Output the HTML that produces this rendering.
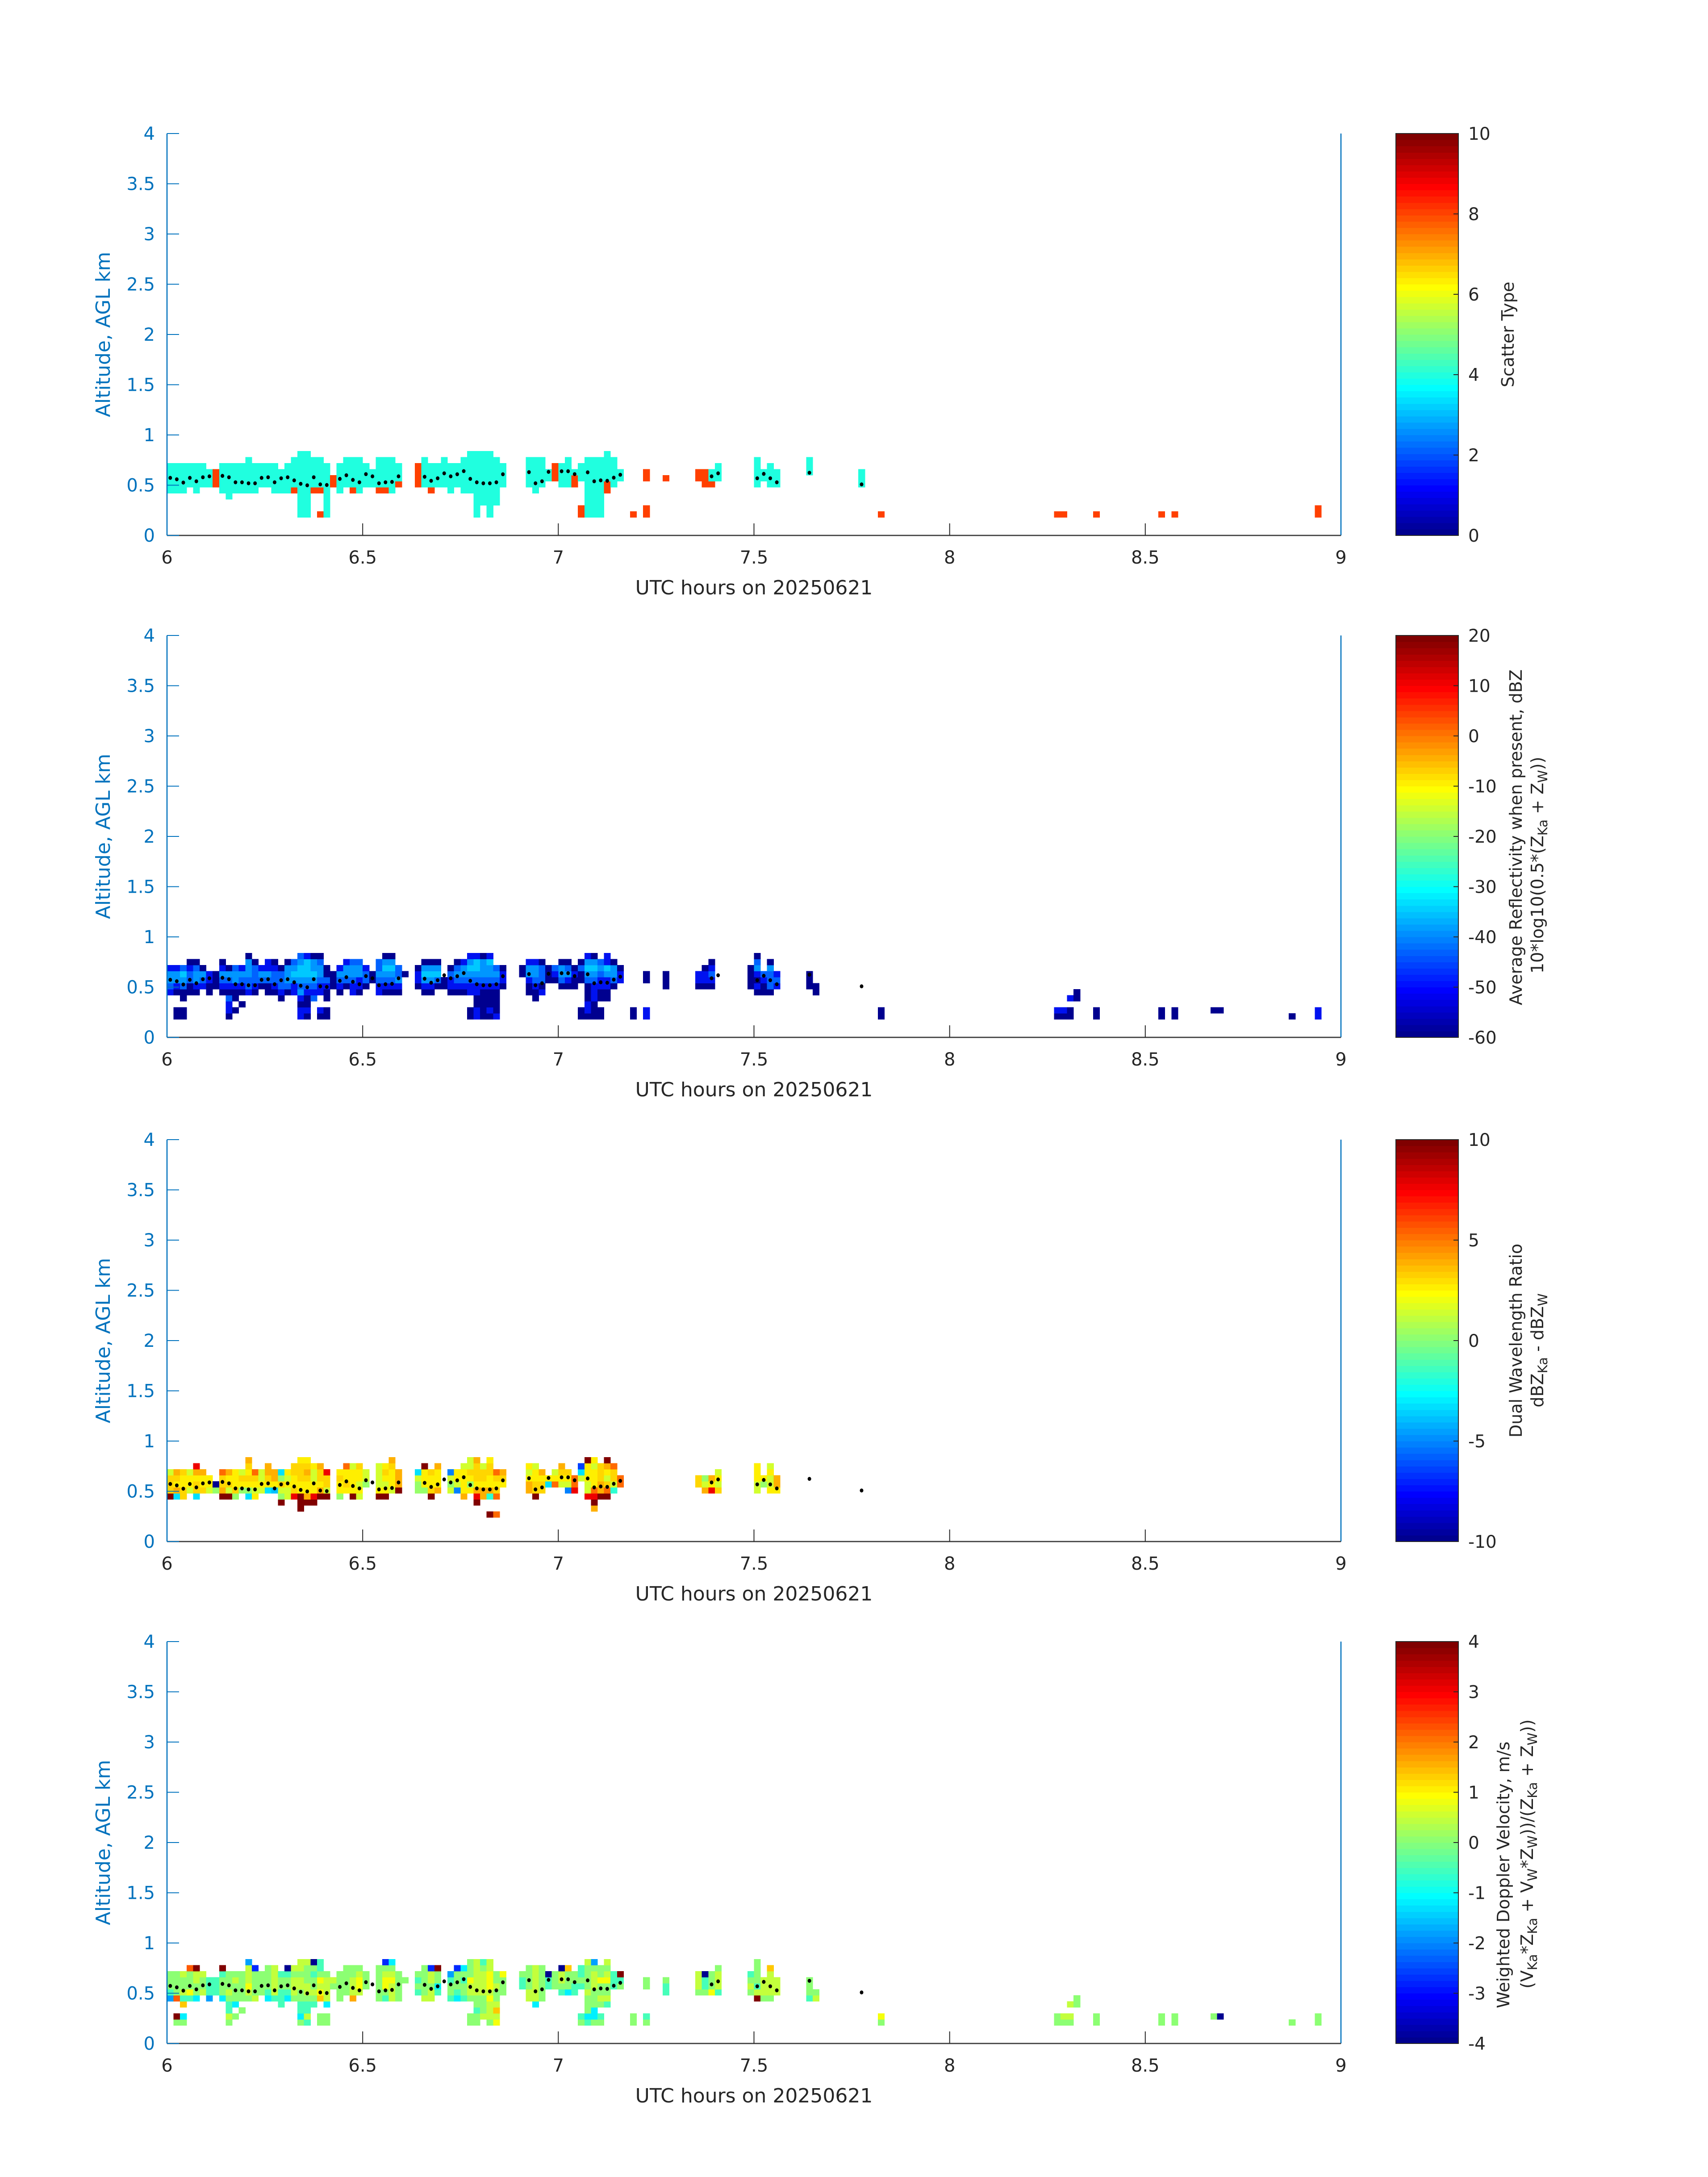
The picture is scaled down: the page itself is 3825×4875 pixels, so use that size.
<!DOCTYPE html>
<html><head><meta charset="utf-8"><style>
html,body{margin:0;padding:0;background:#fff;}
svg{display:block;}
text{font-family:"DejaVu Sans","Liberation Sans",sans-serif;}
</style></head><body>
<svg id="s" xmlns="http://www.w3.org/2000/svg" width="3825" height="4875" viewBox="0 0 3825 4875">
<rect width="3825" height="4875" fill="#fff"/>
<g id="cells" shape-rendering="crispEdges"></g>
<g id="dots"></g>
<g id="cbars" shape-rendering="crispEdges"></g>

<!-- ===== Axes spines & ticks ===== -->
<g fill="none">
<!-- panel 1 -->
<path d="M374 299V1199M3003 299V1199" stroke="#0072BD" stroke-width="2.6"/>
<path d="M374 1199H3003" stroke="#3a3a3a" stroke-width="2.8"/>
<path d="M374 1199h27M374 1086.5h27M374 974h27M374 861.5h27M374 749h27M374 636.5h27M374 524h27M374 411.5h27M374 299h27" stroke="#0072BD" stroke-width="2"/>
<path d="M812.2 1199v-27M1250.3 1199v-27M1688.5 1199v-27M2126.7 1199v-27M2564.8 1199v-27" stroke="#262626" stroke-width="2"/>
<!-- panel 2 -->
<path d="M374 1423V2323M3003 1423V2323" stroke="#0072BD" stroke-width="2.6"/>
<path d="M374 2323H3003" stroke="#3a3a3a" stroke-width="2.8"/>
<path d="M374 2323h27M374 2210.5h27M374 2098h27M374 1985.5h27M374 1873h27M374 1760.5h27M374 1648h27M374 1535.5h27M374 1423h27" stroke="#0072BD" stroke-width="2"/>
<path d="M812.2 2323v-27M1250.3 2323v-27M1688.5 2323v-27M2126.7 2323v-27M2564.8 2323v-27" stroke="#262626" stroke-width="2"/>
<!-- panel 3 -->
<path d="M374 2552V3452M3003 2552V3452" stroke="#0072BD" stroke-width="2.6"/>
<path d="M374 3452H3003" stroke="#3a3a3a" stroke-width="2.8"/>
<path d="M374 3452h27M374 3339.5h27M374 3227h27M374 3114.5h27M374 3002h27M374 2889.5h27M374 2777h27M374 2664.5h27M374 2552h27" stroke="#0072BD" stroke-width="2"/>
<path d="M812.2 3452v-27M1250.3 3452v-27M1688.5 3452v-27M2126.7 3452v-27M2564.8 3452v-27" stroke="#262626" stroke-width="2"/>
<!-- panel 4 -->
<path d="M374 3676V4576M3003 3676V4576" stroke="#0072BD" stroke-width="2.6"/>
<path d="M374 4576H3003" stroke="#3a3a3a" stroke-width="2.8"/>
<path d="M374 4576h27M374 4463.5h27M374 4351h27M374 4238.5h27M374 4126h27M374 4013.5h27M374 3901h27M374 3788.5h27M374 3676h27" stroke="#0072BD" stroke-width="2"/>
<path d="M812.2 4576v-27M1250.3 4576v-27M1688.5 4576v-27M2126.7 4576v-27M2564.8 4576v-27" stroke="#262626" stroke-width="2"/>
</g>

<!-- ===== Panel 1 text ===== -->
<g font-size="40" fill="#0072BD" text-anchor="end">
<text x="347" y="1213">0</text><text x="347" y="1100.5">0.5</text><text x="347" y="988">1</text><text x="347" y="875.5">1.5</text><text x="347" y="763">2</text><text x="347" y="650.5">2.5</text><text x="347" y="538">3</text><text x="347" y="425.5">3.5</text><text x="347" y="313">4</text>
</g>
<g font-size="40" fill="#262626" text-anchor="middle">
<text x="374" y="1262">6</text><text x="812.2" y="1262">6.5</text><text x="1250.3" y="1262">7</text><text x="1688.5" y="1262">7.5</text><text x="2126.7" y="1262">8</text><text x="2564.8" y="1262">8.5</text><text x="3003" y="1262">9</text>
</g>
<text x="1688.5" y="1331" font-size="44" fill="#262626" text-anchor="middle">UTC hours on 20250621</text>
<text transform="translate(246,749) rotate(-90)" font-size="44" fill="#0072BD" text-anchor="middle">Altitude, AGL km</text>
<g font-size="39" fill="#262626">
<text x="3288" y="1213">0</text><text x="3288" y="1033">2</text><text x="3288" y="853">4</text><text x="3288" y="673">6</text><text x="3288" y="493">8</text><text x="3288" y="313">10</text>
</g>
<text transform="translate(3390,749) rotate(-90)" font-size="38" fill="#262626" text-anchor="middle">Scatter Type</text>

<!-- ===== Panel 2 text ===== -->
<g font-size="40" fill="#0072BD" text-anchor="end">
<text x="347" y="2337">0</text><text x="347" y="2224.5">0.5</text><text x="347" y="2112">1</text><text x="347" y="1999.5">1.5</text><text x="347" y="1887">2</text><text x="347" y="1774.5">2.5</text><text x="347" y="1662">3</text><text x="347" y="1549.5">3.5</text><text x="347" y="1437">4</text>
</g>
<g font-size="40" fill="#262626" text-anchor="middle">
<text x="374" y="2386">6</text><text x="812.2" y="2386">6.5</text><text x="1250.3" y="2386">7</text><text x="1688.5" y="2386">7.5</text><text x="2126.7" y="2386">8</text><text x="2564.8" y="2386">8.5</text><text x="3003" y="2386">9</text>
</g>
<text x="1688.5" y="2455" font-size="44" fill="#262626" text-anchor="middle">UTC hours on 20250621</text>
<text transform="translate(246,1873) rotate(-90)" font-size="44" fill="#0072BD" text-anchor="middle">Altitude, AGL km</text>
<g font-size="39" fill="#262626">
<text x="3288" y="2337">-60</text><text x="3288" y="2224.5">-50</text><text x="3288" y="2112">-40</text><text x="3288" y="1999.5">-30</text><text x="3288" y="1887">-20</text><text x="3288" y="1774.5">-10</text><text x="3288" y="1662">0</text><text x="3288" y="1549.5">10</text><text x="3288" y="1437">20</text>
</g>
<text transform="translate(3408,1875) rotate(-90)" font-size="38" fill="#262626" text-anchor="middle">Average Reflectivity when present, dBZ</text>
<text transform="translate(3456,2180) rotate(-90)" font-size="38" fill="#262626">10*log10(0.5*(Z<tspan dy="9" font-size="29">Ka</tspan><tspan dy="-9"> + Z</tspan><tspan dy="9" font-size="29">W</tspan><tspan dy="-9">))</tspan></text>

<!-- ===== Panel 3 text ===== -->
<g font-size="40" fill="#0072BD" text-anchor="end">
<text x="347" y="3466">0</text><text x="347" y="3353.5">0.5</text><text x="347" y="3241">1</text><text x="347" y="3128.5">1.5</text><text x="347" y="3016">2</text><text x="347" y="2903.5">2.5</text><text x="347" y="2791">3</text><text x="347" y="2678.5">3.5</text><text x="347" y="2566">4</text>
</g>
<g font-size="40" fill="#262626" text-anchor="middle">
<text x="374" y="3515">6</text><text x="812.2" y="3515">6.5</text><text x="1250.3" y="3515">7</text><text x="1688.5" y="3515">7.5</text><text x="2126.7" y="3515">8</text><text x="2564.8" y="3515">8.5</text><text x="3003" y="3515">9</text>
</g>
<text x="1688.5" y="3584" font-size="44" fill="#262626" text-anchor="middle">UTC hours on 20250621</text>
<text transform="translate(246,3002) rotate(-90)" font-size="44" fill="#0072BD" text-anchor="middle">Altitude, AGL km</text>
<g font-size="39" fill="#262626">
<text x="3288" y="3466">-10</text><text x="3288" y="3241">-5</text><text x="3288" y="3016">0</text><text x="3288" y="2791">5</text><text x="3288" y="2566">10</text>
</g>
<text transform="translate(3408,3002) rotate(-90)" font-size="38" fill="#262626" text-anchor="middle">Dual Wavelength Ratio</text>
<text transform="translate(3456,3024) rotate(-90)" font-size="38" fill="#262626" text-anchor="middle">dBZ<tspan dy="9" font-size="29">Ka</tspan><tspan dy="-9"> - dBZ</tspan><tspan dy="9" font-size="29">W</tspan></text>

<!-- ===== Panel 4 text ===== -->
<g font-size="40" fill="#0072BD" text-anchor="end">
<text x="347" y="4590">0</text><text x="347" y="4477.5">0.5</text><text x="347" y="4365">1</text><text x="347" y="4252.5">1.5</text><text x="347" y="4140">2</text><text x="347" y="4027.5">2.5</text><text x="347" y="3915">3</text><text x="347" y="3802.5">3.5</text><text x="347" y="3690">4</text>
</g>
<g font-size="40" fill="#262626" text-anchor="middle">
<text x="374" y="4639">6</text><text x="812.2" y="4639">6.5</text><text x="1250.3" y="4639">7</text><text x="1688.5" y="4639">7.5</text><text x="2126.7" y="4639">8</text><text x="2564.8" y="4639">8.5</text><text x="3003" y="4639">9</text>
</g>
<text x="1688.5" y="4708" font-size="44" fill="#262626" text-anchor="middle">UTC hours on 20250621</text>
<text transform="translate(246,4126) rotate(-90)" font-size="44" fill="#0072BD" text-anchor="middle">Altitude, AGL km</text>
<g font-size="39" fill="#262626">
<text x="3288" y="4590">-4</text><text x="3288" y="4477.5">-3</text><text x="3288" y="4365">-2</text><text x="3288" y="4252.5">-1</text><text x="3288" y="4140">0</text><text x="3288" y="4027.5">1</text><text x="3288" y="3915">2</text><text x="3288" y="3802.5">3</text><text x="3288" y="3690">4</text>
</g>
<text transform="translate(3380,4497) rotate(-90)" font-size="38" fill="#262626">Weighted Doppler Velocity, m/s</text>
<text transform="translate(3433,4453) rotate(-90)" font-size="38" fill="#262626">(V<tspan dy="9" font-size="29">Ka</tspan><tspan dy="-9">*Z</tspan><tspan dy="9" font-size="29">Ka</tspan><tspan dy="-9"> + V</tspan><tspan dy="9" font-size="29">W</tspan><tspan dy="-9">*Z</tspan><tspan dy="9" font-size="29">W</tspan><tspan dy="-9">))/(Z</tspan><tspan dy="9" font-size="29">Ka</tspan><tspan dy="-9"> + Z</tspan><tspan dy="9" font-size="29">W</tspan><tspan dy="-9">))</tspan></text>
</svg>
<script>
(function(){
const NS="http://www.w3.org/2000/svg";
const X0=374,X9=3003,CW=(X9-X0)/180,B=[1199,2323,3452,4576],KM=225,H=900;
function el(tag,a,p){const e=document.createElementNS(NS,tag);for(const k in a)e.setAttribute(k,a[k]);p.appendChild(e);return e;}
const gc=document.getElementById('cells'),gd=document.getElementById('dots'),gb=document.getElementById('cbars');
function draw(p,data,cmap){const b=B[p];for(const [col,s] of data){for(let r=0;r<s.length;r++){const ch=s[r];if(ch==='.')continue;
 el('rect',{x:(X0+col*CW).toFixed(2),y:(b-(0.18+0.06*(r+1))*KM).toFixed(2),width:(CW+0.5).toFixed(2),height:(0.06*KM+0.5).toFixed(2),fill:cmap[ch]||'#888'},gc);}}}
const P1=[[0,"....ccccc.."],[1,"....ccccc.."],[2,"....ccccc.."],[3,".....cccc.."],[4,"....ccccc.."],[5,".....cccc.."],[6,".....ccc..."],[7,".....ooo..."],[8,"....ccccc.."],[9,"...cccccc.."],[10,"....ccccc.."],[11,"....ccccc.."],[12,"....cccccc."],[13,"....ccccc.."],[14,".....cccc.."],[15,".....cccc.."],[16,"....ccccc.."],[17,"....cccc..."],[18,"....ccccc.."],[19,"....occccc."],[20,"ccccccccccc"],[21,"ccccccccccc"],[22,"....occccc."],[23,"o...occccc."],[24,"ccccccccc.."],[25,".....oo...."],[26,"....ccccc.."],[27,".....ccccc."],[28,"....occccc."],[29,"....cccccc."],[30,".....cccc.."],[31,".....ccc..."],[32,"....occccc."],[33,"....occccc."],[34,"....cccccc."],[35,".....occc.."],[38,".....oooo.."],[39,".....ccccc."],[40,"....occcc.."],[41,".....cccc.."],[42,".....ccccc."],[43,"....ccccc.."],[44,".....cccc.."],[45,"....cccccc."],[46,"....ccccccc"],[47,"ccccccccccc"],[48,"..ccccccccc"],[49,"ccccccccccc"],[50,"..cccccccc."],[51,".....cccc.."],[55,".....ccccc."],[56,"....cccccc."],[57,".....ccccc."],[58,"......cc..."],[59,"......ooo.."],[60,".....cccc.."],[61,".....ccccc."],[62,".....ooc..."],[63,"oo....ccc.."],[64,"cccccccccc."],[65,"cccccccccc."],[66,"cccccccccc."],[67,"....ooccccc"],[68,".....ccccc."],[69,"......cc..."],[71,"o"],[73,"oo....oo"],[76,"......o"],[81,"......oo"],[82,".....ooo"],[83,".....occ"],[84,"......ccc"],[90,".....ccccc"],[91,"......cc"],[92,".....cccc"],[93,".....ccc"],[98,".......ccc"],[106,".....ccc"],[109,"o"],[136,"o"],[137,"o"],[142,"o"],[152,"o"],[154,"o"],[176,"oo"]];
const P2=[[0,"....bmllb.."],[1,"nn..nbllb.."],[2,"nn.nnmlkm.."],[3,"....nnmmbn."],[4,"....nbllmn."],[5,".....bmln.."],[6,"....nnbb..."],[7,".....nnn..."],[8,"....nbmlbn."],[9,"nbbmnbmln.."],[10,".n.nnbllm.."],[11,"..n.nbmlb.."],[12,"....bmmllln"],[13,"....nbmmmn."],[14,".....nmlb.."],[15,"....nnmlbb."],[16,"....nbmmbn."],[17,"...nbmmmn.."],[18,"....nmllln."],[19,"....bblklm."],[20,"bbnblmlkklm"],[21,"nbnnbmlkkkb"],[22,"...mbmlklln"],[23,"nb..bbmllmn"],[24,"nn.nnbmnn.."],[25,".....nnn..."],[26,"....nbmlb.."],[27,".....nmllb."],[28,"....bbmllm."],[29,"....nbbllm."],[30,".....nmmb.."],[31,"......nn..."],[32,"....bbmlmm."],[33,"....nbmlkln"],[34,"....nbmlkln"],[35,"....nblmm.."],[36,".......n..."],[38,".....nbbn.."],[39,"....nblkln."],[40,"....nblkln."],[41,".....nmkln."],[42,".....nn...."],[43,"....nbbmn.."],[44,"....nbmlmn."],[45,"....nbmllb."],[46,"nn..bbmlklb"],[47,"bbnnbbmlkkb"],[48,"nnnnnbmllln"],[49,"nbnnnbmllkb"],[50,"bnnnnbmlm.."],[51,".....nbbn.."],[54,".......nn.."],[55,"....nnbllb."],[56,"...nnbmllb."],[57,"....bnmmmn."],[58,"......nnn.."],[59,"......nbm.."],[60,".....nmlln."],[61,".....nblmn."],[62,".....nnbn.."],[63,"nn....nnmn."],[64,"nbbnnnmlklb"],[65,"nnnbbbmlkln"],[66,"nn.nnbbmlm."],[67,"...nnbblkbb"],[68,".....nmlln."],[69,"......bbn.."],[71,"nn"],[73,"bb....nn"],[76,".....nnn"],[81,".....nbb"],[82,".....nbbn"],[83,".....nbmbn"],[89,".....nnnn"],[90,"....nbnblmn"],[91,"....nnbm"],[92,"....nmmmln"],[93,".....bmb"],[98,".....nnn"],[99,"....nn"],[109,"nn"],[136,"nb"],[137,"nb"],[138,"nn.b"],[139,"...nn"],[142,"nn"],[152,"nn"],[154,"nn"],[160,".n"],[161,".n"],[172,"n"],[176,"bb"]];
const P3=[[0,"....dggge.."],[1,"....cayga.."],[2,"....ggyyg.."],[3,".....eyye.."],[4,"....cggyar."],[5,".....gyya.."],[6,".....eyy..."],[7,".....fN...."],[8,"....daggo.."],[9,"....degya.."],[10,"....fgyyy.."],[11,".....fyge.."],[12,"....cfygyga"],[13,"....yeygo.."],[14,".....eyee.."],[15,".....cygaa."],[16,".....Cyaa.."],[17,"...dfegfc.."],[18,"....eeyey.."],[19,"....rgyygg."],[20,"..dddyygggy"],[21,"...dayygagy"],[22,"...dryyeey."],[23,"....daygga."],[24,"....deggr.."],[26,"....fyygy.."],[27,".....ygyyo."],[28,"....dyyyye."],[29,"....eyeyyg."],[30,"......fee.."],[32,"....dyeeee."],[33,"....dyeygy."],[34,".....eyyyga"],[35,".....daaa.."],[38,".....ffec.."],[39,".....fyyyd."],[40,"....dgyyg.."],[41,".....ayyya."],[43,".....efeB.."],[44,".....Beyy.."],[45,"....ayyyye."],[46,".....yfygee"],[47,"...drayggga"],[48,"....aaygge."],[49,".d..tayyggy"],[50,".o..ogygo.."],[51,"......yga.."],[55,".....aayey."],[56,"....dggyye."],[57,".....ggya.."],[58,"......cy..."],[59,"......oye.."],[60,"......eyga."],[61,".....Beyg.."],[62,".....roo..."],[63,".......ecU."],[64,"....reeyyyd"],[65,"..adroyyyey"],[66,"....daaggg."],[67,"....dogeyad"],[68,".....teggo."],[69,"......oo..."],[81,"......gg"],[82,".....aef"],[83,".....rya"],[84,".....geye"],[90,".....eeyyy"],[91,"......fy"],[92,".....yeeye"],[93,".....yaa"]];
const P4=[[0,"....Btfff.."],[1,"fd..offff.."],[2,"fc.gteffe.."],[3,"....tyfffo."],[4,"....cffeed."],[5,".....effe.."],[6,"....Bttt..."],[7,".....ttt..."],[8,"....cffftd."],[9,"fettfefff.."],[10,".f.cfffef.."],[11,"..f.fffff.."],[12,"....feyeeeB"],[13,"....effffU."],[14,".....ffff.."],[15,"....ctffff."],[16,"....teeeee."],[17,"...tttfft.."],[18,"....ctfftN."],[19,"....feeefe."],[20,"fcttffeefee"],[21,"tettfeefffe"],[22,"...tfefftfN"],[23,"ff..gyeyftt"],[24,"ff.ceeeef.."],[25,"......fe..."],[26,"....fffff.."],[27,".....fffff."],[28,"....aeeeff."],[29,".....eyyef."],[30,"......fff.."],[32,"....ffffff."],[33,"....tfyyefU"],[34,"....eeeyefc"],[35,"....fffff.."],[36,".......f..."],[38,".....tftf.."],[39,"....efffff."],[40,"....eefeeU."],[41,".....tcffd."],[43,"....tfftB.."],[44,"....ctfffU."],[45,"....tfftfc."],[46,"ff..feeyfff"],[47,"fftffeeeeee"],[48,".efffeeeeft"],[49,"feeeyeyyyee"],[50,"yegeffeff.."],[51,".....fffy.."],[54,"......ttf.."],[55,"....eeffff."],[56,"...ceeeeee."],[57,"....ffffff."],[58,"......ttN.."],[59,"......fff.."],[60,".....tfeeN."],[61,".....cfffg."],[62,".....ttff.."],[63,"ft....tftt."],[64,"tcfffeffffe"],[65,"fccfffeeefB"],[66,"ft.feffyff."],[67,"...teffyefe"],[68,"......ttt.."],[69,"......ftd.."],[71,"ff"],[73,"ft....ff"],[76,".....ttf"],[81,".....feee"],[82,".....fttN"],[83,".....yfff"],[84,".....teeef"],[89,".....feft"],[90,"....detffff"],[91,"....feee"],[92,"....feeeeg"],[93,".....eee"],[98,"....tfff"],[99,"....ef"],[109,"fy"],[136,"ff"],[137,"fe"],[138,"fe.e"],[139,"...ff"],[142,"ff"],[152,"ff"],[154,"ff"],[160,".f"],[161,".N"],[172,"f"],[176,"ff"]];
const M1={c:'#20ffdf',o:'#ff4000'};
const M2={n:'#00008f',b:'#0012f0',m:'#0062ff',l:'#0096ff',k:'#00c8ff'};
const M3={y:'#ffef00',g:'#ffd600',a:'#ffb000',o:'#ff6a00',r:'#ee0000',d:'#800000',e:'#d2ff2d',f:'#96ff69',c:'#00e1ff',C:'#00c0ff',t:'#2dffd2',B:'#0080ff',N:'#00008f',U:'#0040ff'};
const M4={f:'#8cff73',e:'#c3ff3c',t:'#46ffb9',y:'#f5ff0a',c:'#00f0ff',B:'#00a0ff',U:'#0028ff',N:'#00008f',d:'#800000',o:'#ff5a00',g:'#ffc800',a:'#ffaa00'};
draw(0,P1,M1);draw(1,P2,M2);draw(2,P3,M3);draw(3,P4,M4);
const D=[[0,.573],[1,.559],[2,.526],[3,.573],[4,.539],[5,.579],[6,.588],[8,.593],[9,.579],[10,.529],[11,.529],[12,.519],[13,.519],[14,.573],[15,.579],[16,.529],[17,.569],[18,.579],[19,.548],[20,.514],[21,.499],[22,.579],[23,.508],[24,.502],[26,.563],[27,.599],[28,.553],[29,.529],[30,.61],[31,.588],[32,.519],[33,.529],[34,.533],[35,.588],[39,.584],[40,.544],[41,.569],[42,.618],[43,.588],[44,.609],[45,.64],[46,.563],[47,.529],[48,.519],[49,.519],[50,.529],[51,.609],[55,.63],[56,.519],[57,.539],[58,.633],[60,.639],[61,.639],[62,.61],[64,.628],[65,.539],[66,.548],[67,.544],[68,.575],[69,.604],[83,.588],[84,.618],[90,.569],[91,.613],[92,.569],[93,.529],[98,.624],[106,.508]];
for(let p=0;p<4;p++){for(const [c,a] of D){el('ellipse',{cx:(X0+(c+0.5)*CW).toFixed(2),cy:(B[p]-a*KM).toFixed(2),rx:4,ry:4.4,fill:'#000'},gd);}}
function u(k){return (k<1||k>47)?0:(k<=16?k/16:(k<=31?1:(48-k)/16));}
function jet(i){const R=i>=25?u(i-24):0,G=(i>=9&&i<=55)?u(i-8):0,Bc=i<=39?u(i+8):0;return 'rgb('+Math.round(R*255)+','+Math.round(G*255)+','+Math.round(Bc*255)+')';}
const ticks=[[0,2,4,6,8,10].map(v=>v/10),[-60,-50,-40,-30,-20,-10,0,10,20].map(v=>(v+60)/80),[-10,-5,0,5,10].map(v=>(v+10)/20),[-4,-3,-2,-1,0,1,2,3,4].map(v=>(v+4)/8)];
for(let p=0;p<4;p++){const b=B[p],hh=H/64;
 for(let i=1;i<=64;i++){el('rect',{x:3126,y:(b-i*hh).toFixed(2),width:140,height:(hh+0.6).toFixed(2),fill:jet(i)},gb);}
 el('rect',{x:3126,y:b-H,width:140,height:H,fill:'none',stroke:'#262626','stroke-width':2.2},gb);
 let d='';for(const f of ticks[p]){const y=(b-f*H).toFixed(2);d+='M3266 '+y+'h-11';}
 el('path',{d:d,stroke:'#262626','stroke-width':2,fill:'none'},gb);
}
})();
</script>
</body></html>
